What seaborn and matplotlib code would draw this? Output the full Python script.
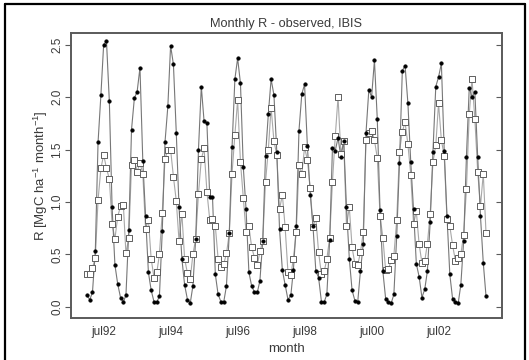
import numpy as np
import pandas as pd
import matplotlib
matplotlib.use("Agg")
import matplotlib.pyplot as plt
import matplotlib.dates as mdates
from matplotlib.lines import Line2D
import seaborn as sns

# ---- data (monthly, Jan 1992 - Dec 2003) ----
observed = [
    0.11, 0.07, 0.14, 0.53, 1.57, 2.02, 2.50, 2.53, 1.96, 0.95, 0.40, 0.22,
    0.09, 0.05, 0.11, 0.73, 1.69, 1.99, 2.05, 2.28, 1.39, 0.87, 0.33, 0.16,
    0.05, 0.05, 0.10, 0.72, 1.57, 1.91, 2.49, 2.31, 1.66, 0.95, 0.46, 0.21,
    0.07, 0.04, 0.20, 0.65, 1.50, 2.10, 1.77, 1.75, 1.05, 1.05, 0.31, 0.12,
    0.05, 0.05, 0.20, 0.70, 1.52, 2.17, 2.37, 2.13, 1.33, 0.93, 0.33, 0.20,
    0.14, 0.14, 0.25, 0.63, 1.44, 1.84, 2.17, 2.02, 1.48, 0.74, 0.35, 0.21,
    0.07, 0.11, 0.35, 0.77, 1.68, 2.03, 2.12, 1.53, 1.07, 0.77, 0.34, 0.28,
    0.05, 0.05, 0.12, 0.64, 1.51, 1.49, 1.61, 1.43, 1.58, 0.95, 0.46, 0.16,
    0.06, 0.05, 0.34, 0.60, 1.66, 2.07, 2.00, 2.35, 1.79, 0.92, 0.34, 0.08,
    0.05, 0.04, 0.12, 0.68, 1.37, 2.25, 2.30, 1.94, 1.38, 0.93, 0.41, 0.29,
    0.09, 0.17, 0.34, 0.81, 1.48, 2.10, 2.19, 2.32, 1.49, 0.87, 0.31, 0.08,
    0.05, 0.04, 0.21, 0.63, 1.43, 2.09, 2.00, 2.05, 1.43, 0.87, 0.42, 0.10,
]
ibis = [
    0.31, 0.31, 0.37, 0.47, 1.02, 1.32, 1.45, 1.32, 1.22, 0.79, 0.65, 0.86,
    0.96, 0.97, 0.51, 0.66, 1.35, 1.40, 1.29, 1.37, 1.27, 0.74, 0.83, 0.46,
    0.28, 0.33, 0.50, 0.90, 1.41, 1.50, 1.50, 1.24, 1.01, 0.63, 0.89, 0.46,
    0.32, 0.27, 0.50, 0.65, 1.08, 1.41, 1.51, 1.10, 0.83, 0.84, 0.77, 0.46,
    0.38, 0.41, 0.51, 0.70, 1.27, 1.64, 1.97, 1.38, 1.04, 0.71, 0.77, 0.57,
    0.47, 0.40, 0.53, 0.63, 1.19, 1.50, 1.90, 1.58, 1.45, 0.93, 1.07, 0.76,
    0.33, 0.30, 0.46, 0.71, 1.35, 1.27, 1.52, 1.40, 1.13, 0.76, 0.85, 0.52,
    0.31, 0.34, 0.46, 0.66, 1.19, 1.63, 2.00, 1.46, 1.58, 0.77, 0.95, 0.57,
    0.41, 0.40, 0.52, 0.71, 1.59, 1.66, 1.68, 1.59, 1.42, 0.87, 0.66, 0.35,
    0.36, 0.45, 0.49, 0.83, 1.48, 1.67, 1.76, 1.55, 1.26, 0.79, 0.91, 0.60,
    0.42, 0.44, 0.60, 0.89, 1.38, 1.54, 1.94, 1.59, 1.44, 0.84, 0.77, 0.59,
    0.44, 0.47, 0.50, 0.69, 1.12, 1.84, 2.17, 1.79, 1.29, 0.96, 1.27, 0.70,
]
months = pd.date_range("1992-01-01", periods=len(observed), freq="MS")
tick_months = pd.date_range("1992-07-01", periods=12, freq="12MS")
tick_labels = ["jul92", "", "jul94", "", "jul96", "", "jul98", "",
               "jul00", "", "jul02", ""]
y_ticks = [0.0, 0.5, 1.0, 1.5, 2.0, 2.5]
y_tick_labels = ["0.0", "0.5", "1.0", "1.5", "2.0", "2.5"]

title = "Monthly R - observed, IBIS"
xlabel = "month"
ylabel = r"R [MgC ha$^{-1}$ month$^{-1}$]"

# ---- style ----
sns.set_style("white")
plt.rcParams["font.family"] = ["Liberation Sans", "DejaVu Sans"]
plt.rcParams["mathtext.fontset"] = "custom"
plt.rcParams["mathtext.rm"] = "Liberation Sans"
plt.rcParams["mathtext.it"] = "Liberation Sans"
TXT = "#3a3a3a"
FRAME = "#5a5a5a"

df = pd.DataFrame({"month": months, "observed": observed, "IBIS": ibis})

fig = plt.figure(figsize=(5.29, 3.60), dpi=100)
ax = fig.add_axes([71 / 529, 1 - 318 / 360, (502 - 71) / 529, (318 - 33) / 360])

sns.lineplot(data=df, x="month", y="IBIS", color="#a8a8a8", lw=0.8, ax=ax, zorder=1)
sns.lineplot(data=df, x="month", y="observed", color="#777777", lw=0.8, ax=ax, zorder=2)
sns.scatterplot(data=df, x="month", y="IBIS", marker="s", s=18, facecolor="white",
                edgecolor="#606060", linewidth=0.7, ax=ax, zorder=3)
sns.scatterplot(data=df, x="month", y="observed", marker="o", s=7, color="black",
                edgecolor="black", linewidth=0.3, ax=ax, zorder=4)

x0 = mdates.date2num(months[0])
x1 = mdates.date2num(months[-1])
pad = (x1 - x0) * 0.04
ax.set_xlim(x0 - pad, x1 + pad)
ax.set_ylim(-0.105, 2.61)

ax.set_xticks(tick_months)
ax.set_xticklabels(tick_labels, fontsize=8.5, color=TXT)
ax.set_yticks(y_ticks)
ax.set_yticklabels(y_tick_labels, fontsize=8.5, color=TXT, rotation=90, va="center")
ax.tick_params(axis="x", direction="in", length=4, width=0.8, color=FRAME, pad=6)
ax.tick_params(axis="y", direction="out", length=4, width=0.8, color=FRAME, pad=1.5)

ax2 = ax.twinx()
ax2.set_ylim(ax.get_ylim())
ax2.set_yticks(y_ticks)
ax2.tick_params(axis="y", direction="in", length=4, width=0.8, color=FRAME,
                labelright=False)
for a in (ax, ax2):
    for sp in a.spines.values():
        sp.set_visible(True)
        sp.set_color(FRAME)
        sp.set_linewidth(1.2)

ax.set_xlabel(xlabel, fontsize=9.5, color=TXT, labelpad=3)
ax.set_ylabel(ylabel, fontsize=9.5, color=TXT, labelpad=1)
ax2.set_ylabel("")
ax.set_title(title, fontsize=9.2, color=TXT, pad=4.5)

# outer black border (left, top, right)
for xs, ys in (([0.010, 0.010], [0.0, 0.989]),
               ([0.010, 0.993], [0.989, 0.989]),
               ([0.993, 0.993], [0.0, 0.989])):
    fig.add_artist(Line2D(xs, ys, transform=fig.transFigure, color="black", lw=1.6))

fig.savefig("out.png", dpi=100)
